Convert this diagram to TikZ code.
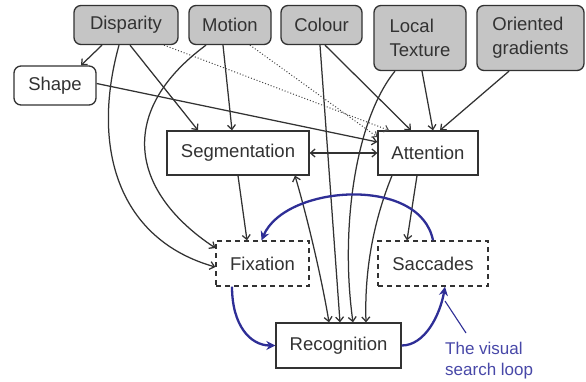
\documentclass[tikz,border=0pt]{standalone}
\usepackage{fontspec}
\setmainfont{Liberation Sans}
\usetikzlibrary{arrows.meta,calc}
\definecolor{boxgray}{RGB}{197,197,197}
\definecolor{edgecol}{RGB}{50,50,50}
\definecolor{loopblue}{RGB}{46,46,150}
\definecolor{txtblue}{RGB}{72,72,168}
\begin{document}
\begin{tikzpicture}[x=1pt,y=-1pt,
  font=\fontsize{18.5}{24}\selectfont,
  base/.style={draw=edgecol, line width=1.3pt, text=edgecol, inner sep=0pt, align=left},
  feature/.style={base, fill=boxgray, rounded corners=7pt},
  shapebox/.style={base, fill=white, rounded corners=7pt},
  proc/.style={base, fill=white},
  dashbox/.style={base, dash pattern=on 5pt off 4pt, fill=white},
  link/.style={draw=edgecol, line width=1.25pt, -{Straight Barb[length=4.5pt,width=8pt]}},
  biline/.style={draw=edgecol, line width=1.25pt, {Straight Barb[length=4.5pt,width=8pt]}-{Straight Barb[length=4.5pt,width=8pt]}},
  dotlink/.style={draw=edgecol!90, line width=1pt, dotted, -{Straight Barb[length=4pt,width=7pt]}},
  loop/.style={draw=loopblue, line width=2.3pt, -{Stealth[length=9pt,width=9pt,inset=3pt]}},
]
\useasboundingbox (0,0) rectangle (586,382);
\fill[white] (0,0) rectangle (586,382);

% nodes
\node[feature, minimum width=104pt, minimum height=39pt] (disp) at (126,25) {Disparity};
\node[feature, minimum width=82pt, minimum height=39pt] (motion) at (230,25) {Motion};
\node[feature, minimum width=81pt, minimum height=39pt] (colour) at (321.5,25) {Colour};
\node[feature, minimum width=92pt, minimum height=65pt] (texture) at (420,38) {Local\\Texture};
\node[feature, minimum width=107pt, minimum height=65pt] (grad) at (530.5,38) {Oriented\\gradients};
\node[shapebox, minimum width=82pt, minimum height=39pt] (shape) at (55,85.5) {Shape};
\node[proc, minimum width=142pt, minimum height=44pt] (seg) at (238,153) {Segmentation};
\node[proc, minimum width=100pt, minimum height=44pt] (att) at (428,153) {Attention};
\node[dashbox, minimum width=93pt, minimum height=45pt] (fix) at (262.5,263.5) {Fixation};
\node[dashbox, minimum width=110pt, minimum height=45pt] (sacc) at (433,263.5) {Saccades};
\node[proc, minimum width=125pt, minimum height=45pt] (rec) at (338.5,345.5) {Recognition};
\node[text=txtblue, align=left, anchor=north west, inner sep=0pt,
      font=\fontsize{17}{20.5}\selectfont] (label) at (445,342) {The visual\\search loop};
\coordinate (ptrA) at (445,301);
\coordinate (ptrB) at (466,333);

% black connectors
\draw[link] ($(disp.south)+(-24,0)$) -- ($(shape.north)+(26,0)$);
\draw[link] ($(disp.south)+(4,0)$) -- ($(seg.north)+(-40,0)$);
\draw[link] ($(disp.south)+(-7,0)$) .. controls (90,150) and (120,240) .. ($(fix.west)+(0,3.5)$);
\draw[dotlink] ($(disp.south)+(38,0)$) -- ($(att.north)+(-39,0)$);
\draw[link] ($(motion.south)+(-7,0)$) -- ($(seg.north)+(-6,0)$);
\draw[link] ($(motion.south)+(-24,0)$) .. controls (118,110) and (128,190) .. ($(fix.west)+(0,-15.5)$);
\draw[dotlink] ($(motion.south)+(20,0)$) -- ($(att.west)+(0,-16)$);
\draw[link] ($(shape.east)+(0,-2)$) -- ($(att.west)+(0,-11)$);
\draw[link] ($(colour.south)+(3.5,0)$) -- ($(att.north)+(-17,0)$);
\draw[link] ($(colour.south)+(-1.5,0)$) -- ($(rec.north)+(1.5,0)$);
\draw[link] ($(texture.south)+(2,0)$) -- ($(att.north)+(5,0)$);
\draw[link] ($(texture.south)+(-25,0)$) .. controls (355,120) and (340,230) .. ($(rec.north)+(14.5,0)$);
\draw[link] ($(grad.south)+(-21.5,0)$) -- ($(att.north)+(12,0)$);
\draw[biline] (seg.east) -- (att.west);
\draw[link] (seg.south) -- ($(fix.north)+(-15.5,0)$);
\draw[biline] ($(seg.south)+(57,0)$) .. controls (308,220) and (322,280) .. ($(rec.north)+(-9.5,0)$);
\draw[link] ($(att.south)+(-36,0)$) .. controls (378,210) and (364,260) .. ($(rec.north)+(27.5,0)$);
\draw[link] ($(att.south)+(-11,0)$) -- ($(sacc.north)+(-26,0)$);

% visual search loop
\draw[loop] (sacc.north) .. controls (420,175) and (285,185) .. ($(fix.north)+(-1,0)$);
\draw[loop] ($(fix.south)+(-30.5,0)$) .. controls (232,325) and (250,345.5) .. (rec.west);
\draw[loop] (rec.east) .. controls (425,345.5) and (440,315) .. ($(sacc.south)+(12,0)$);
\draw[draw=loopblue, line width=1.1pt] (ptrA) -- (ptrB);
\end{tikzpicture}
\end{document}
